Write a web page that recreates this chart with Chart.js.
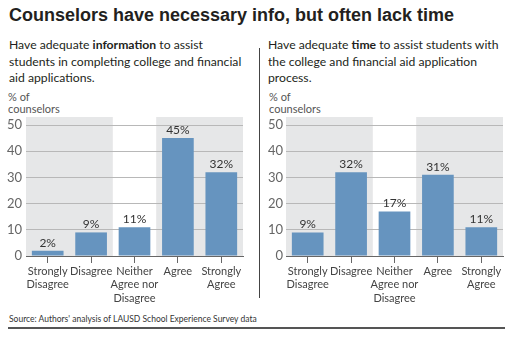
<!DOCTYPE html>
<html>
<head>
<meta charset="utf-8">
<script src="https://cdn.jsdelivr.net/npm/chart.js@4.4.1/dist/chart.umd.min.js"></script>
<style>
    body { margin: 0; background: #fff; }
    #wrap { position: relative; width: 511px; height: 341px; overflow: hidden; font-family: Lato, sans-serif; color: #231f20; }
    .abs { position: absolute; }
    #title { left: 9px; top: 5px; font: bold 18px "Liberation Sans", Arial, sans-serif; white-space: nowrap; }
    .sub { top: 37px; font-size: 12.2px; line-height: 16.5px; white-space: nowrap; }
    .unit { top: 91px; font-size: 11px; line-height: 11.5px; color: #555; }
    #src { left: 9px; top: 314px; font-size: 8.5px; color: #333; }
    #divider { left: 259px; top: 48px; width: 1px; height: 250px; background: #444; }
    #rule { left: 8px; top: 327px; width: 497px; height: 1.5px; background: #555; }
    canvas { position: absolute; top: 100px; }
</style>
</head>
<body>
<div id="wrap">
    <div id="title" class="abs">Counselors have necessary info, but often lack time</div>
    <div class="abs sub" style="left:9px">Have adequate <b>information</b> to assist<br>students in completing college and financial<br>aid applications.</div>
    <div class="abs sub" style="left:268px">Have adequate <b>time</b> to assist students with<br>the college and financial aid application<br>process.</div>
    <div class="abs unit" style="left:8px">% of<br>counselors</div>
    <div class="abs unit" style="left:269px">% of<br>counselors</div>
    <div id="divider" class="abs"></div>
    <div id="src" class="abs">Source: Authors' analysis of LAUSD School Experience Survey data</div>
    <div id="rule" class="abs"></div>
    <canvas id="infoChart" width="255" height="210" style="left:0"></canvas>
    <canvas id="timeChart" width="256" height="210" style="left:255px"></canvas>
</div>
<script>
    const answers = [['Strongly', 'Disagree'], 'Disagree', ['Neither', 'Agree nor', 'Disagree'], 'Agree', ['Strongly', 'Agree']];
    const infoValues = [2, 9, 11, 45, 32];
    const timeValues = [9, 32, 17, 31, 11];
    const yTicks = [0, 10, 20, 30, 40, 50];

    // grey bands behind the disagree / agree groups
    const bands = {
        id: 'bands',
        beforeDraw(chart) {
            const { ctx, chartArea, scales: { x } } = chart;
            const step = x.getPixelForValue(1) - x.getPixelForValue(0);
            ctx.save();
            ctx.fillStyle = '#e6e7e8';
            [[0, 1], [3, 4]].forEach(([a, b]) => {
                const l = x.getPixelForValue(a) - step / 2;
                const r = x.getPixelForValue(b) + step / 2;
                ctx.fillRect(l, chartArea.top - 8, r - l, chartArea.bottom - chartArea.top + 8);
            });
            ctx.restore();
        }
    };

    const barLabels = {
        id: 'barLabels',
        afterDatasetsDraw(chart) {
            const { ctx } = chart;
            const data = chart.data.datasets[0].data;
            ctx.save();
            ctx.font = '12px Lato, sans-serif';
            ctx.fillStyle = '#333';
            ctx.textAlign = 'center';
            ctx.textBaseline = 'bottom';
            chart.getDatasetMeta(0).data.forEach((bar, i) => {
                ctx.fillText(data[i] + '%', bar.x, bar.y - 2);
            });
            ctx.restore();
        }
    };

    function makeChart(id, values, yWidth, padRight, tickPad) {
        return new Chart(document.getElementById(id), {
            type: 'bar',
            data: {
                labels: answers,
                datasets: [{
                    data: values,
                    backgroundColor: '#6694bf',
                    barPercentage: 0.73,
                    categoryPercentage: 1
                }]
            },
            options: {
                responsive: false,
                animation: false,
                devicePixelRatio: 1,
                layout: { padding: { top: 25, right: padRight, left: 0, bottom: 0 } },
                plugins: { legend: { display: false }, tooltip: { enabled: false } },
                scales: {
                    x: {
                        afterFit: s => { s.height = 54; },
                        grid: { offset: false, drawOnChartArea: false, tickLength: 7, color: '#666' },
                        border: { color: '#666' },
                        ticks: { color: '#444', font: { size: 11, family: 'Lato' }, padding: 2, maxRotation: 0, autoSkip: false }
                    },
                    y: {
                        min: 0,
                        max: 50,
                        afterFit: s => { s.width = yWidth; },
                        afterBuildTicks: s => { s.ticks = yTicks.map(v => ({ value: v })); },
                        border: { display: false },
                        grid: { drawTicks: false, color: c => c.tick && c.tick.value === 0 ? '#666' : '#b8b8b8' },
                        ticks: { color: '#666', font: { size: 13, family: 'Lato' }, padding: tickPad }
                    }
                }
            },
            plugins: [bands, barLabels]
        });
    }

    makeChart('infoChart', infoValues, 26, 12, 4);
    makeChart('timeChart', timeValues, 31, 8, 3);
</script>
</body>
</html>
